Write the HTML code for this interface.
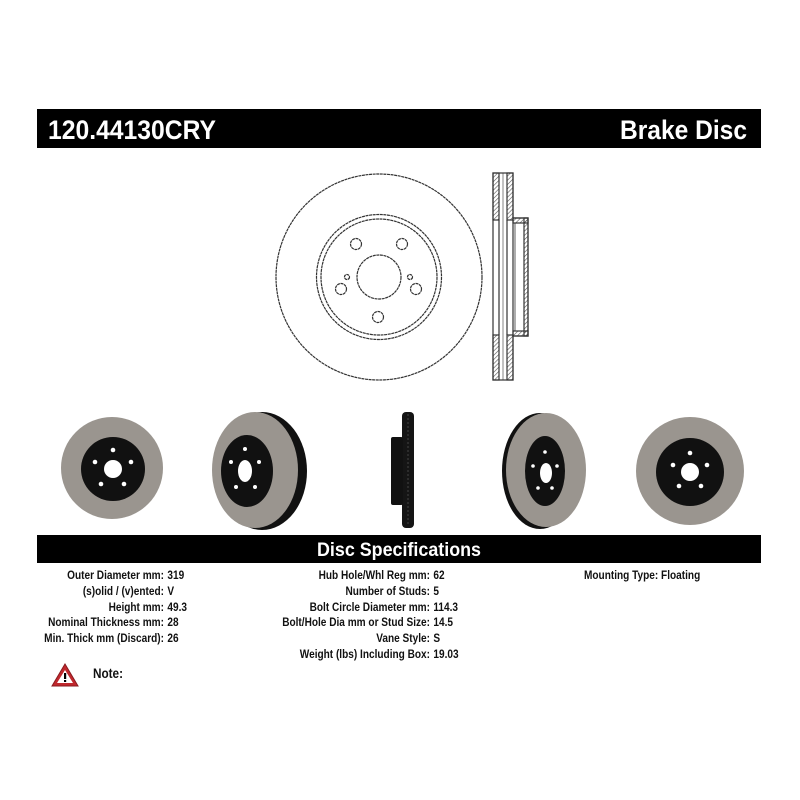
<!DOCTYPE html>
<html><head><meta charset="utf-8"><style>
html,body{margin:0;padding:0;background:#fff;width:800px;height:800px;overflow:hidden}
svg{display:block}
text{font-family:"Liberation Sans",Arial,sans-serif;font-weight:bold}
</style></head><body>
<svg width="800" height="800" viewBox="0 0 800 800" xmlns="http://www.w3.org/2000/svg">
<defs>
<pattern id="hatch" width="3" height="3" patternUnits="userSpaceOnUse" patternTransform="rotate(45)">
<line x1="0" y1="0" x2="0" y2="3" stroke="#555" stroke-width="1.2"/>
</pattern>
</defs>
<!-- header -->
<rect x="37" y="109" width="724" height="39" fill="#000"/>
<text x="48" y="139" font-size="27" fill="#fff" textLength="168" lengthAdjust="spacingAndGlyphs">120.44130CRY</text>
<text x="747" y="139" font-size="27" fill="#fff" text-anchor="end" textLength="127" lengthAdjust="spacingAndGlyphs">Brake Disc</text>

<!-- front drawing -->
<g fill="none" stroke="#333" stroke-width="1.2" stroke-dasharray="3 0.6">
<circle cx="379" cy="277" r="103"/>
<circle cx="379" cy="277" r="62.5"/>
<circle cx="379" cy="277" r="58"/>
<circle cx="379" cy="277" r="22"/>
<circle cx="356" cy="244" r="5.5"/>
<circle cx="402" cy="244" r="5.5"/>
<circle cx="341" cy="289" r="5.5"/>
<circle cx="416" cy="289" r="5.5"/>
<circle cx="378" cy="317" r="5.5"/>
<circle cx="347" cy="277" r="2.5"/>
<circle cx="410" cy="277" r="2.5"/>
</g>
<!-- side drawing -->
<g stroke="#333" stroke-width="1.2">
<rect x="493" y="173" width="6" height="47" fill="url(#hatch)"/>
<rect x="507" y="173" width="6" height="47" fill="url(#hatch)"/>
<rect x="493" y="335" width="6" height="45" fill="url(#hatch)"/>
<rect x="507" y="335" width="6" height="45" fill="url(#hatch)"/>
<rect x="493" y="173" width="20" height="207" fill="none"/>
<line x1="499" y1="220" x2="499" y2="335"/>
<line x1="507" y1="220" x2="507" y2="335"/>
<line x1="503" y1="173" x2="503" y2="380" stroke-width="0.6"/>
<path d="M513 218 L528 218 L528 336 L513 336" fill="none"/>
<rect x="524" y="218" width="4" height="118" fill="url(#hatch)"/>
<rect x="513" y="218" width="15" height="5" fill="url(#hatch)"/>
<rect x="513" y="331" width="15" height="5" fill="url(#hatch)"/>
<line x1="515" y1="223" x2="515" y2="331" stroke-width="0.8"/>
</g>

<!-- photos -->
<!-- disc1 -->
<circle cx="112" cy="468" r="51" fill="#9a958f"/>
<circle cx="113" cy="469" r="32" fill="#111"/>
<circle cx="113" cy="469" r="9" fill="#fff"/>
<g fill="#fff"><circle cx="113" cy="450" r="2.3"/><circle cx="95" cy="462" r="2.3"/><circle cx="131" cy="462" r="2.3"/><circle cx="101" cy="484" r="2.3"/><circle cx="124" cy="484" r="2.3"/></g>
<!-- disc2 -->
<ellipse cx="262" cy="471" rx="45" ry="59" fill="#111"/>
<ellipse cx="255" cy="470" rx="43" ry="58" fill="#9a958f"/>
<ellipse cx="247" cy="471" rx="26" ry="36" fill="#111"/>
<ellipse cx="245" cy="471" rx="7" ry="11" fill="#fff"/>
<g fill="#fff"><circle cx="245" cy="449" r="2"/><circle cx="231" cy="462" r="2"/><circle cx="259" cy="462" r="2"/><circle cx="236" cy="487" r="2"/><circle cx="255" cy="487" r="2"/></g>
<!-- disc3 -->
<rect x="402" y="412" width="12" height="116" rx="4" fill="#151515"/>
<rect x="391" y="437" width="12" height="68" rx="2" fill="#111"/>
<line x1="408" y1="414" x2="408" y2="526" stroke="#444" stroke-dasharray="2 2"/>
<!-- disc4 -->
<ellipse cx="540" cy="471" rx="38" ry="58" fill="#111"/>
<ellipse cx="546" cy="470" rx="40" ry="57" fill="#9a958f"/>
<ellipse cx="545" cy="471" rx="20" ry="35" fill="#111"/>
<ellipse cx="546" cy="473" rx="6" ry="10" fill="#fff"/>
<g fill="#fff"><circle cx="545" cy="452" r="1.8"/><circle cx="533" cy="466" r="1.8"/><circle cx="557" cy="466" r="1.8"/><circle cx="538" cy="488" r="1.8"/><circle cx="552" cy="488" r="1.8"/></g>
<!-- disc5 -->
<ellipse cx="690" cy="471" rx="54" ry="54" fill="#9a958f"/>
<circle cx="690" cy="472" r="34" fill="#111"/>
<circle cx="690" cy="472" r="9" fill="#fff"/>
<g fill="#fff"><circle cx="690" cy="453" r="2.3"/><circle cx="673" cy="465" r="2.3"/><circle cx="707" cy="465" r="2.3"/><circle cx="679" cy="486" r="2.3"/><circle cx="701" cy="486" r="2.3"/></g>

<!-- spec bar -->
<rect x="37" y="535" width="724" height="28" fill="#000"/>
<text x="399" y="556" font-size="19" fill="#fff" text-anchor="middle" textLength="164" lengthAdjust="spacingAndGlyphs">Disc Specifications</text>

<g font-size="12" fill="#111">
<g transform="translate(164,579) scale(0.84,1)"><text text-anchor="end">Outer Diameter mm:</text><text x="4">319</text></g>
<g transform="translate(164,595) scale(0.84,1)"><text text-anchor="end">(s)olid / (v)ented:</text><text x="4">V</text></g>
<g transform="translate(164,611) scale(0.84,1)"><text text-anchor="end">Height mm:</text><text x="4">49.3</text></g>
<g transform="translate(164,626) scale(0.84,1)"><text text-anchor="end">Nominal Thickness mm:</text><text x="4">28</text></g>
<g transform="translate(164,642) scale(0.84,1)"><text text-anchor="end">Min. Thick mm (Discard):</text><text x="4">26</text></g>

<g transform="translate(430,579) scale(0.84,1)"><text text-anchor="end">Hub Hole/Whl Reg mm:</text><text x="4">62</text></g>
<g transform="translate(430,595) scale(0.84,1)"><text text-anchor="end">Number of Studs:</text><text x="4">5</text></g>
<g transform="translate(430,611) scale(0.84,1)"><text text-anchor="end">Bolt Circle Diameter mm:</text><text x="4">114.3</text></g>
<g transform="translate(430,626) scale(0.84,1)"><text text-anchor="end">Bolt/Hole Dia mm or Stud Size:</text><text x="4">14.5</text></g>
<g transform="translate(430,642) scale(0.84,1)"><text text-anchor="end">Vane Style:</text><text x="4">S</text></g>
<g transform="translate(430,658) scale(0.84,1)"><text text-anchor="end">Weight (lbs) Including Box:</text><text x="4">19.03</text></g>

<g transform="translate(584,579) scale(0.84,1)"><text>Mounting Type: Floating</text></g>
<g transform="translate(93,678) scale(0.84,1)"><text font-size="14">Note:</text></g>
</g>
<!-- warning triangle -->
<path d="M65 664 L78 686 L52 686 Z" fill="#c0282d" stroke="#8a1a1e" stroke-width="1"/>
<path d="M65 670 L73 683 L57 683 Z" fill="#fff"/>
<rect x="64" y="673" width="2.2" height="6" fill="#000"/>
<rect x="64" y="680" width="2.2" height="2" fill="#000"/>
</svg>
</body></html>
